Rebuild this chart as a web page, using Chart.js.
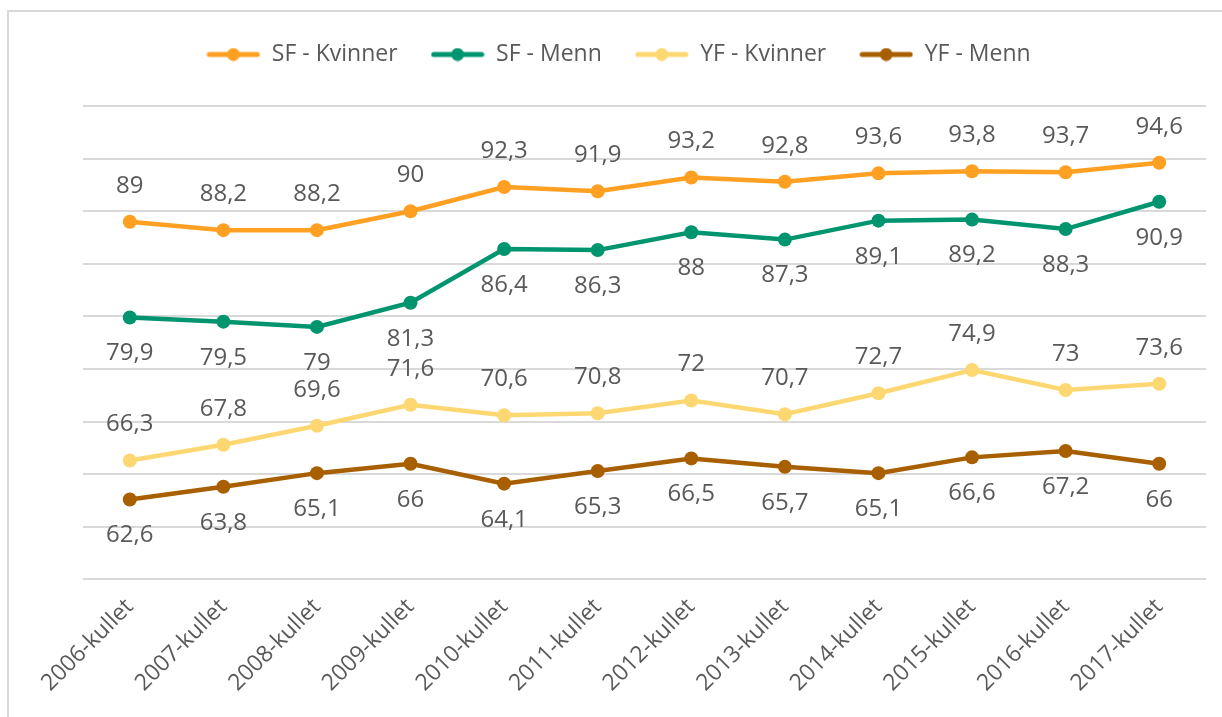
<!DOCTYPE html>
<html>
<head>
<meta charset="utf-8">
<script src="https://cdn.jsdelivr.net/npm/chart.js@4/dist/chart.umd.min.js"></script>
<style>
  html, body { margin: 0; padding: 0; background: #fff; }
  #wrap { width: 1222px; height: 717px; position: relative; }
</style>
</head>
<body>
<div id="wrap"><canvas id="chart" width="1222" height="717"></canvas></div>
<script>
// Categories and series values
const cohorts = ['2006-kullet', '2007-kullet', '2008-kullet', '2009-kullet', '2010-kullet', '2011-kullet',
                 '2012-kullet', '2013-kullet', '2014-kullet', '2015-kullet', '2016-kullet', '2017-kullet'];
const sfKvinner = [89, 88.2, 88.2, 90, 92.3, 91.9, 93.2, 92.8, 93.6, 93.8, 93.7, 94.6];
const sfMenn    = [79.9, 79.5, 79, 81.3, 86.4, 86.3, 88, 87.3, 89.1, 89.2, 88.3, 90.9];
const yfKvinner = [66.3, 67.8, 69.6, 71.6, 70.6, 70.8, 72, 70.7, 72.7, 74.9, 73, 73.6];
const yfMenn    = [62.6, 63.8, 65.1, 66, 64.1, 65.3, 66.5, 65.7, 65.1, 66.6, 67.2, 66];

const textColor = '#595959';
const fontFamily = "'Open Sans', 'Noto Sans', sans-serif";

// legend marker: a short line with a dot on it
function legendMarker(color) {
  const c = document.createElement('canvas');
  c.width = 54; c.height = 14;
  const g = c.getContext('2d');
  g.strokeStyle = color;
  g.lineWidth = 5;
  g.lineCap = 'round';
  g.beginPath(); g.moveTo(3, 7); g.lineTo(51, 7); g.stroke();
  g.fillStyle = color;
  g.beginPath(); g.arc(27, 7, 6.5, 0, Math.PI * 2); g.fill();
  return c;
}

function series(label, data, color, labelPos) {
  return {
    label: label,
    data: data,
    borderColor: color,
    backgroundColor: color,
    borderWidth: 4.5,
    pointRadius: 7,
    pointHoverRadius: 7,
    pointBorderWidth: 0,
    tension: 0,
    labelPos: labelPos
  };
}

// draws the value labels above or below each point
const valueLabels = {
  id: 'valueLabels',
  afterDatasetsDraw(chart) {
    const ctx = chart.ctx;
    ctx.save();
    ctx.font = '24px ' + fontFamily;
    ctx.fillStyle = textColor;
    ctx.textAlign = 'center';
    ctx.textBaseline = 'middle';
    chart.data.datasets.forEach((ds, di) => {
      const meta = chart.getDatasetMeta(di);
      meta.data.forEach((pt, i) => {
        const txt = String(ds.data[i]).replace('.', ',');
        const dy = ds.labelPos === 'above' ? -36 : 36;
        ctx.fillText(txt, pt.x, pt.y + dy);
      });
    });
    ctx.restore();
  }
};

// extra room under the legend, and legend nudged left like the reference
const legendGap = {
  id: 'legendGap',
  beforeInit(chart) {
    const fit = chart.legend.fit;
    chart.legend.fit = function () {
      fit.call(this);
      this.height += 30;
    };
  },
  afterLayout(chart) {
    chart.legend.left -= 26;
    chart.legend.right -= 26;
  }
};

// light frame around the chart, as in the reference
const frame = {
  id: 'frame',
  beforeDraw(chart) {
    const ctx = chart.ctx;
    ctx.save();
    ctx.fillStyle = '#fff';
    ctx.fillRect(0, 0, chart.width, chart.height);
    ctx.strokeStyle = '#d9d9d9';
    ctx.lineWidth = 2;
    ctx.strokeRect(8, 11, chart.width + 20, chart.height + 20);
    ctx.restore();
  }
};

new Chart(document.getElementById('chart'), {
  type: 'line',
  data: {
    labels: cohorts,
    datasets: [
      series('SF - Kvinner', sfKvinner, '#FFA022', 'above'),
      series('SF - Menn', sfMenn, '#00956F', 'below'),
      series('YF - Kvinner', yfKvinner, '#FDD872', 'above'),
      series('YF - Menn', yfMenn, '#A85F00', 'below')
    ]
  },
  options: {
    responsive: false,
    animation: false,
    layout: { padding: { top: 10, left: 83, right: 16, bottom: 14 } },
    plugins: {
      legend: {
        position: 'top',
        labels: {
          usePointStyle: true,
          pointStyleWidth: 54,
          padding: 33,
          color: textColor,
          font: { family: fontFamily, size: 23 },
          generateLabels(chart) {
            const items = Chart.defaults.plugins.legend.labels.generateLabels(chart);
            return items.map(it => {
              const ds = chart.data.datasets[it.datasetIndex];
              it.pointStyle = legendMarker(ds.borderColor);
              return it;
            });
          }
        }
      },
      tooltip: { enabled: false }
    },
    scales: {
      x: {
        offset: true,
        grid: { display: false },
        border: { display: false },
        ticks: {
          color: textColor,
          font: { family: fontFamily, size: 23 },
          minRotation: 45,
          maxRotation: 45,
          padding: 6
        }
      },
      y: {
        min: 55,
        max: 100,
        ticks: { display: false, stepSize: 5 },
        border: { display: false },
        grid: { color: '#d9d9d9', lineWidth: 2, drawTicks: false }
      }
    }
  },
  plugins: [frame, legendGap, valueLabels]
});
</script>
</body>
</html>
